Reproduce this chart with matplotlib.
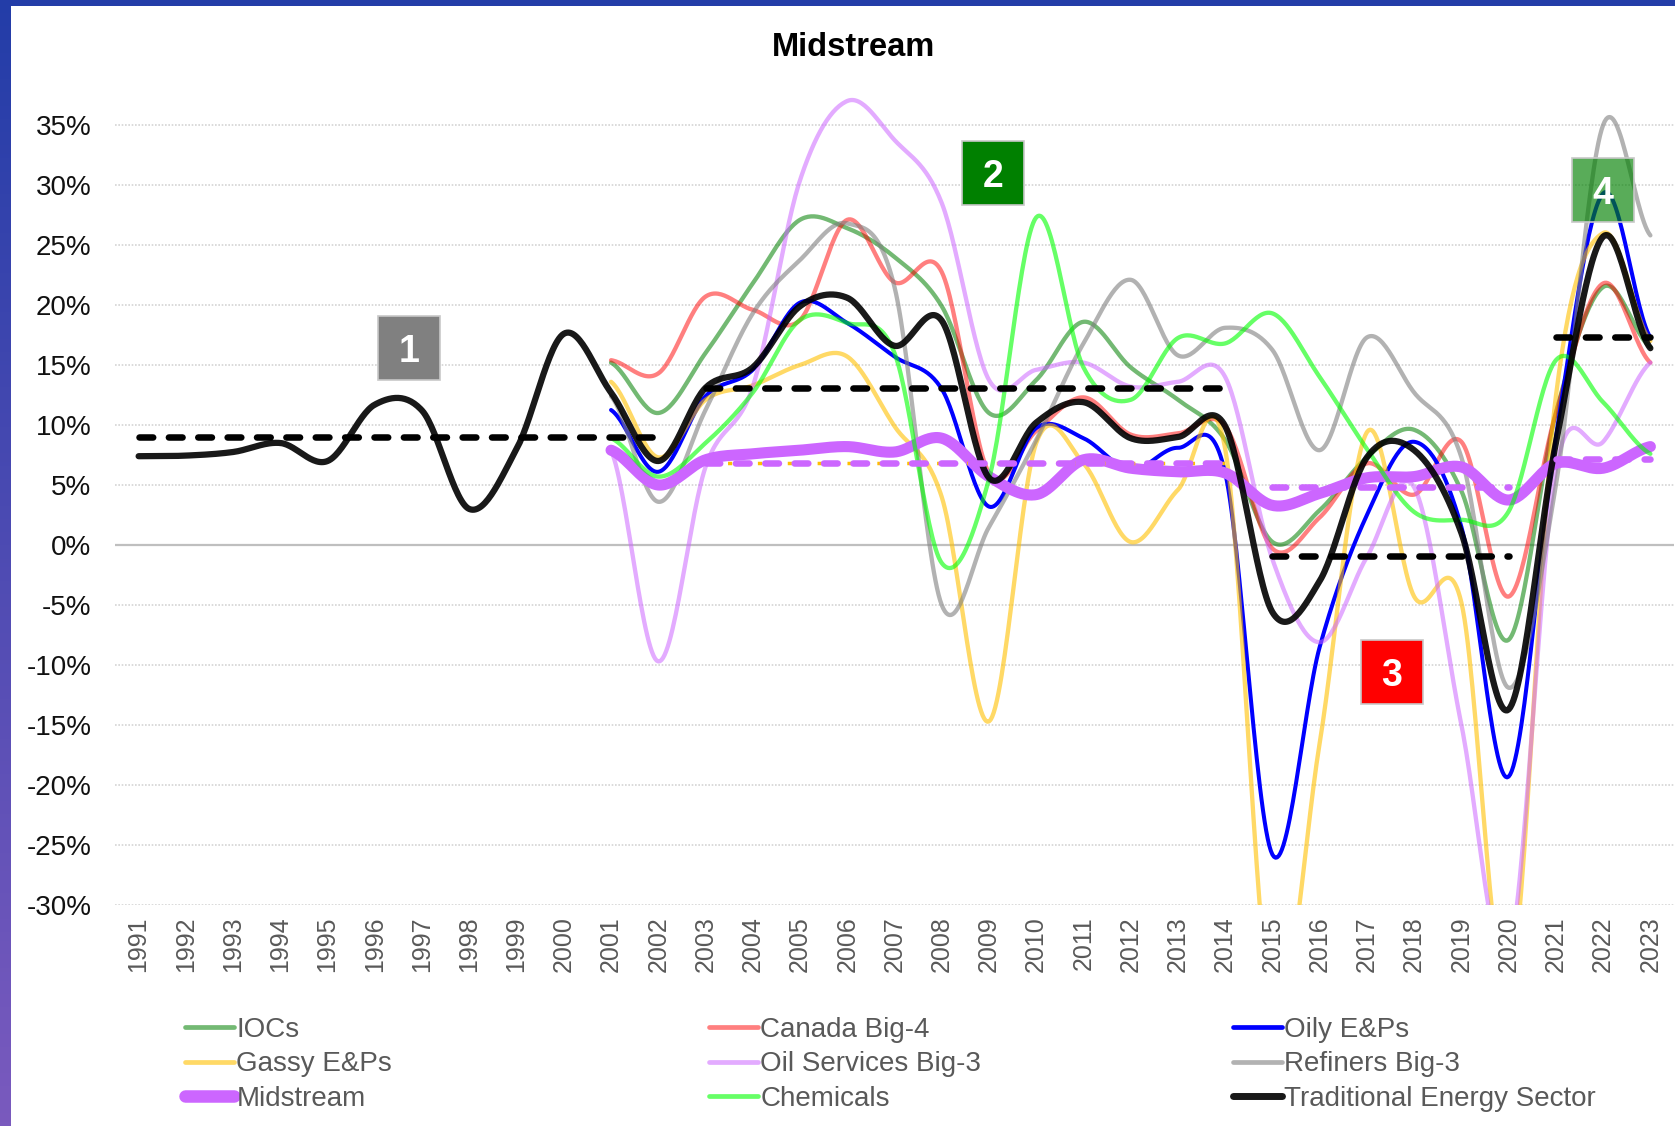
import numpy as np
import matplotlib
matplotlib.use("Agg")
import matplotlib.pyplot as plt
from matplotlib.patches import Rectangle
from matplotlib.lines import Line2D

plt.rcParams['font.family'] = ['Liberation Sans', 'DejaVu Sans']

# ---------------- data (percent) ----------------
years = list(range(1991, 2024))
year_labels = [str(y) for y in years]
sub_years = list(range(2001, 2024))

traditional = [7.4, 7.45, 7.75, 8.5, 7.0, 11.7, 11.2, 3.0, 8.0, 17.6,
               12.7, 7.0, 13.1, 14.8, 19.9, 20.6, 16.6, 18.7, 5.6, 10.2,
               11.9, 8.9, 9.0, 9.9, -5.6, -3.0, 7.3, 7.9, 1.0, -13.7,
               8.5, 25.7, 16.4]
iocs = [15.2, 11.0, 16.0, 21.8, 27.1, 26.4, 24.0, 19.9, 11.0, 13.75,
        18.6, 14.8, 12.1, 8.75, 0.25, 2.9, 7.3, 9.6, 4.5, -7.9,
        11.0, 21.5, 16.5]
canada = [15.4, 14.3, 20.7, 19.6, 18.75, 27.1, 21.9, 22.75, 6.0, 9.5,
          12.3, 9.2, 9.3, 9.9, -0.3, 2.3, 6.8, 4.2, 8.6, -4.3,
          11.0, 21.8, 15.2]
oily = [11.25, 6.1, 12.4, 14.6, 20.2, 18.5, 15.7, 13.0, 3.2, 9.75,
        8.9, 6.25, 8.1, 6.0, -25.8, -8.5, 2.5, 8.6, 1.5, -19.3,
        9.0, 29.3, 17.3]
gassy = [13.6, 7.3, 12.1, 13.3, 15.0, 15.7, 9.9, 4.0, -14.7, 8.5,
         6.8, 0.25, 4.6, 8.0, -39.0, -16.5, 9.4, -4.3, -4.8, -37.0,
         12.4, 26.0, 17.0]
oil_services = [7.9, -9.7, 6.5, 13.2, 30.4, 37.0, 33.75, 28.5, 13.75, 14.6,
                15.2, 13.2, 13.6, 14.0, -1.2, -8.1, -1.0, 4.8, -15.0, -34.0,
                6.3, 8.6, 15.2]
refiners = [12.4, 3.6, 11.25, 19.3, 23.75, 26.8, 21.5, -5.0, 1.5, 8.75,
            16.8, 22.1, 15.8, 18.1, 16.25, 7.9, 17.3, 12.7, 7.3, -11.9,
            5.0, 35.0, 25.8]
midstream = [7.9, 5.0, 7.1, 7.6, 7.9, 8.2, 7.75, 8.9, 5.7, 4.2,
             7.1, 6.4, 6.1, 6.0, 3.3, 4.3, 5.6, 5.7, 6.5, 3.75,
             6.8, 6.4, 8.2]
chemicals = [8.9, 5.7, 8.5, 12.7, 18.75, 18.5, 16.0, -1.5, 5.5, 27.3,
             14.8, 12.1, 17.25, 16.8, 19.3, 14.0, 8.0, 2.75, 2.1, 2.8,
             15.4, 11.9, 7.6]

# period averages
trad_periods = [(1991, 2002), (2003, 2014), (2015, 2020), (2021, 2023)]
trad_avg = [9.0, 13.1, -0.9, 17.3]
mid_periods = [(2003, 2014), (2015, 2020), (2021, 2023)]
mid_avg = [6.8, 4.8, 7.2]
gassy_periods = [(2003, 2014)]
gassy_avg = [6.8]

# numbered period markers: label, year, value(%)
marker_labels = ['1', '2', '3', '4']
marker_years = [1996.72, 2009.09, 2017.53, 2022.0]
marker_values = [16.4, 31.0, -10.6, 29.6]
marker_colors = ['#808080', '#008000', '#FF0000', '#008000']
marker_alpha = [1.0, 1.0, 1.0, 0.65]

y_ticks = list(range(-30, 36, 5))

# ---------------- helpers ----------------
def smooth(xs, ys, n=30):
    xs = np.asarray(xs, float)
    ys = np.asarray(ys, float)
    px = np.concatenate([[2 * xs[0] - xs[1]], xs, [2 * xs[-1] - xs[-2]]])
    py = np.concatenate([[ys[0]], ys, [ys[-1]]])
    ox, oy = [], []
    for i in range(1, len(px) - 2):
        t = np.linspace(0, 1, n, endpoint=False)
        for arr, out in ((px, ox), (py, oy)):
            p0, p1, p2, p3 = arr[i - 1], arr[i], arr[i + 1], arr[i + 2]
            out.extend(0.5 * (2 * p1 + (-p0 + p2) * t
                              + (2 * p0 - 5 * p1 + 4 * p2 - p3) * t ** 2
                              + (-p0 + 3 * p1 - 3 * p2 + p3) * t ** 3))
    ox.append(px[-2]); oy.append(py[-2])
    return np.array(ox), np.array(oy)

def xpos(yrs):
    return [y - years[0] for y in yrs]

# ---------------- figure ----------------
W, H = 1675, 1126
fig = plt.figure(figsize=(W / 100, H / 100), dpi=100)
fig.patch.set_facecolor('white')

# frame decoration (blue/purple border)
bax = fig.add_axes([0, 0, 11 / W, 1])
grad = np.linspace(0, 1, 256)[:, None]
c_top = np.array([35, 61, 168]) / 255
c_bot = np.array([122, 90, 190]) / 255
img = (c_top[None, None, :] * (1 - grad[..., None]) + c_bot[None, None, :] * grad[..., None])
bax.imshow(img, aspect='auto', extent=[0, 1, 0, 1])
bax.axis('off')
tax = fig.add_axes([0, 1 - 6 / H, 1, 6 / H])
tax.set_facecolor('#233DA8')
tax.set_xticks([]); tax.set_yticks([])
for s in tax.spines.values():
    s.set_visible(False)

L, R, T, B = 115, 1674, 89, 905
ax = fig.add_axes([L / W, 1 - B / H, (R - L) / W, (B - T) / H])
ax.set_xlim(-0.5, len(years) - 0.5)
ax.set_ylim(-30, 38)
for s in ax.spines.values():
    s.set_visible(False)

ax.set_yticks(y_ticks)
ax.set_yticklabels([f"{v}%" for v in y_ticks])
ax.set_xticks(xpos(years))
ax.set_xticklabels(year_labels, rotation=90)
ax.tick_params(axis='y', length=0, pad=17, labelsize=20, labelcolor='#111111')
ax.tick_params(axis='x', length=0, pad=8, labelsize=18, labelcolor='#595959')
ax.yaxis.grid(True, linestyle=(0, (1, 1)), color='#D4D4D4', linewidth=1.2)
ax.set_axisbelow(True)
ax.axhline(0, color='#BFBFBF', linewidth=1.6, zorder=1)

series = [
    ('IOCs', iocs, '#008000', 0.55, 3.1),
    ('Canada Big-4', canada, '#FF0000', 0.5, 3.1),
    ('Oily E&Ps', oily, '#0000FF', 1.0, 2.9),
    ('Gassy E&Ps', gassy, '#FFC000', 0.6, 3.1),
    ('Oil Services Big-3', oil_services, '#CC66FF', 0.55, 3.1),
    ('Refiners Big-3', refiners, '#808080', 0.6, 3.1),
    ('Midstream', midstream, '#CC66FF', 1.0, 8.0),
    ('Chemicals', chemicals, '#00FF00', 0.6, 3.1),
]
handles = {}
z = 2
for name, vals, col, al, lw in series:
    sx, sy = smooth(xpos(sub_years), vals)
    ax.plot(sx, sy, color=col, alpha=al, linewidth=lw,
            solid_capstyle='round', solid_joinstyle='round', zorder=z)
    handles[name] = (col, al, lw)
    z += 1
sx, sy = smooth(xpos(years), traditional)
ax.plot(sx, sy, color='#000000', alpha=0.9, linewidth=4.5,
        solid_capstyle='round', zorder=z)
handles['Traditional Energy Sector'] = ('#000000', 0.9, 4.5)
z += 1

# period average lines
for (a, b), v in zip(gassy_periods, gassy_avg):
    ax.plot(xpos([a, b]), [v, v], color='#FFC000', linewidth=2.5,
            linestyle=(2.4, (1.2, 3.1)), dash_capstyle='butt', zorder=z)
for (a, b), v in zip(mid_periods, mid_avg):
    ax.plot(xpos([a, b]), [v, v], color='#CC66FF', linewidth=4.7,
            linestyle=(0, (2.1, 2.4)), dash_capstyle='round', zorder=z + 1)
for (a, b), v in zip(trad_periods, trad_avg):
    ax.plot(xpos([a, b]), [v, v], color='#000000', linewidth=4.7,
            linestyle=(0, (2.1, 2.4)), dash_capstyle='round', zorder=z + 2)

# numbered markers
bw = 62 / (R - L) * (len(years))          # box width in category units
bh = 64 / (B - T) * 68                     # box height in % units
for lab, yr, val, col, al in zip(marker_labels, marker_years, marker_values,
                                 marker_colors, marker_alpha):
    cx = yr - years[0]
    ax.add_patch(Rectangle((cx - bw / 2, val - bh / 2), bw, bh, facecolor=col,
                           alpha=al, edgecolor='none', zorder=z + 3))
    ax.add_patch(Rectangle((cx - bw / 2, val - bh / 2), bw, bh, facecolor='none',
                           edgecolor='#C8C8C8', linewidth=1.2, zorder=z + 4))
    ax.text(cx, val, lab, color='white', fontsize=27, fontweight='bold',
            ha='center', va='center_baseline', zorder=z + 5)

# title
fig.text(853 / W, 1 - 47 / H, 'Midstream', ha='center', va='center',
         fontsize=23.5, fontweight='bold', color='#000000')

# legend (3 columns of equal width)
columns = [['IOCs', 'Gassy E&Ps', 'Midstream'],
           ['Canada Big-4', 'Oil Services Big-3', 'Chemicals'],
           ['Oily E&Ps', 'Refiners Big-3', 'Traditional Energy Sector']]
col_x = [185, 709, 1233]
for cx, names in zip(col_x, columns):
    hs = []
    for nm in names:
        col, al, lw = handles[nm]
        hlw = 9.0 if nm == 'Midstream' else (5.0 if nm == 'Traditional Energy Sector' else 3.4)
        hs.append(Line2D([], [], color=col, alpha=al, linewidth=hlw,
                         solid_capstyle='round'))
    fig.legend(hs, names, loc='upper left', bbox_to_anchor=(cx / W, 1 - 1017 / H),
               frameon=False, fontsize=20, labelcolor='#595959',
               handlelength=1.75, handletextpad=0.1, borderpad=0,
               borderaxespad=0, labelspacing=0.3)

fig.savefig('out.png', dpi=100, facecolor='white')
